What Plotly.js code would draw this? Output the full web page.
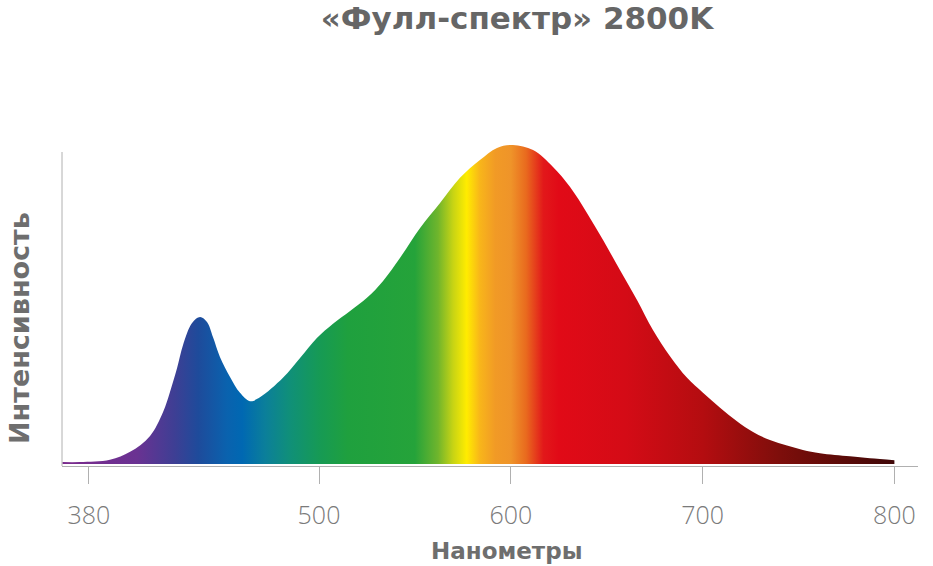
<!DOCTYPE html>
<html>
<head>
<meta charset="utf-8">
<script src="https://cdn.plot.ly/plotly-3.0.1.min.js"></script>
<style>html,body{margin:0;padding:0;background:#fff;}#chart{width:933px;height:566px;}</style>
</head>
<body>
<div id="chart"></div>
<script>
// Wavelength (nm) and relative intensity (peak = 100)
const wavelength = [366.2, 375.4, 391.0, 401.5, 411.9, 418.7, 422.3, 426.0, 429.1, 433.8, 438.0, 441.6, 444.7, 448.4, 453.6, 458.8, 464.0, 469.2, 481.2, 490.1, 498.9, 507.3, 516.2, 525.0, 533.4, 542.2, 552.7, 563.1, 573.5, 583.9, 592.8, 601.1, 611.6, 622.0, 630.9, 639.7, 648.1, 656.9, 665.8, 674.1, 683.0, 691.9, 700.2, 709.1, 717.9, 726.3, 735.1, 744.0, 752.3, 761.2, 776.8, 787.3, 800];
const intensity  = [0.6, 0.6, 1.3, 3.8, 8.8, 16.3, 22.6, 30.1, 37.3, 44.2, 46.1, 44.5, 39.8, 33.5, 27.3, 22.3, 19.7, 20.9, 27.0, 33.2, 39.5, 44.0, 48.0, 52.1, 57.4, 64.6, 74.0, 81.8, 89.7, 95.3, 99.1, 100, 98.4, 93.1, 86.8, 78.7, 70.2, 60.8, 51.4, 42.0, 33.8, 27.0, 22.3, 17.6, 13.4, 10.0, 7.5, 5.8, 4.4, 3.4, 2.4, 1.8, 1.2];

// Spectrum colour stops (nm, colour)
const stopNm    = [366, 405, 425, 437, 452, 460, 472, 485, 500, 515, 550, 562, 570, 577, 584, 592, 600, 608, 617, 625, 660, 700, 740, 770, 800];
const stopColor = ['#7a2a8c', '#6a3292', '#3d3f94', '#1e4b9b', '#0a62ae', '#0068b2', '#0b7f9a', '#109078', '#169a55', '#1fa03e', '#25a33a', '#6fb52c', '#c8d414', '#ffec00', '#f8b51a', '#f19a26', '#ef9429', '#e96a1e', '#e2181a', '#e10a17', '#d40b16', '#b40d10', '#7e0e0b', '#5e0b08', '#400808'];

const tickVals = [380, 500, 600, 700, 800];
const tickText = ['380', '500', '600', '700', '800'];

const chartTitle = '«Фулл-спектр» 2800K';
const xTitle = 'Нанометры';
const yTitle = 'Интенсивность';

const nmMin = stopNm[0], nmMax = stopNm[stopNm.length - 1];
const colorscale = stopNm.map((n, i) => [(n - nmMin) / (nmMax - nmMin), stopColor[i]]);

const trace = {
  x: wavelength,
  y: intensity,
  type: 'scatter',
  mode: 'lines',
  line: {width: 0, shape: 'spline', smoothing: 1},
  fill: 'tozeroy',
  fillgradient: {type: 'horizontal', colorscale: colorscale, start: nmMin, stop: nmMax},
  hoverinfo: 'skip'
};

const grey = '#6e6e6e';
const boldFont = 'DejaVu Sans, Open Sans, sans-serif';
const layout = {
  width: 933, height: 566,
  margin: {l: 62, r: 15, t: 140, b: 100},
  paper_bgcolor: '#ffffff', plot_bgcolor: '#ffffff',
  showlegend: false,
  title: {
    text: '<b>' + chartTitle + '</b>',
    font: {family: boldFont, size: 31, color: '#666666', weight: 'bold'},
    xref: 'container', x: 517 / 933, xanchor: 'center',
    yref: 'container', y: 1 - 18 / 566, yanchor: 'middle'
  },
  xaxis: {
    range: [366.0, 812.3],
    tickvals: tickVals, ticktext: tickText,
    showline: true, linecolor: '#b0b0b0', linewidth: 1,
    ticks: 'outside', ticklen: 17, tickcolor: '#b0b0b0', tickwidth: 1,
    ticklabelstandoff: 10,
    tickfont: {family: 'Open Sans, DejaVu Sans, sans-serif', size: 25, color: '#7a7a7a', weight: 300},
    showgrid: false, zeroline: false, fixedrange: true
  },
  yaxis: {
    range: [-0.63, 101.57],
    showline: false, showticklabels: false, ticks: '',
    showgrid: false, zeroline: false, fixedrange: true
  },
  shapes: [{
    type: 'line', xref: 'paper', yref: 'paper',
    x0: 0, x1: 0, y0: 0, y1: (466 - 152) / 326,
    line: {color: '#b0b0b0', width: 1}
  }],
  annotations: [
    {
      text: '<b>' + xTitle + '</b>', showarrow: false,
      xref: 'paper', yref: 'paper',
      x: (507 - 62) / 856, y: -(551 - 466) / 326,
      xanchor: 'center', yanchor: 'middle',
      font: {family: boldFont, size: 23, color: grey, weight: 'bold'}
    },
    {
      text: '<b>' + yTitle + '</b>', showarrow: false, textangle: -90,
      xref: 'paper', yref: 'paper',
      x: (19 - 62) / 856, y: (466 - 328) / 326,
      xanchor: 'center', yanchor: 'middle',
      font: {family: boldFont, size: 27, color: grey, weight: 'bold'}
    }
  ]
};

Plotly.newPlot('chart', [trace], layout, {displayModeBar: false, staticPlot: true});
</script>
</body>
</html>
